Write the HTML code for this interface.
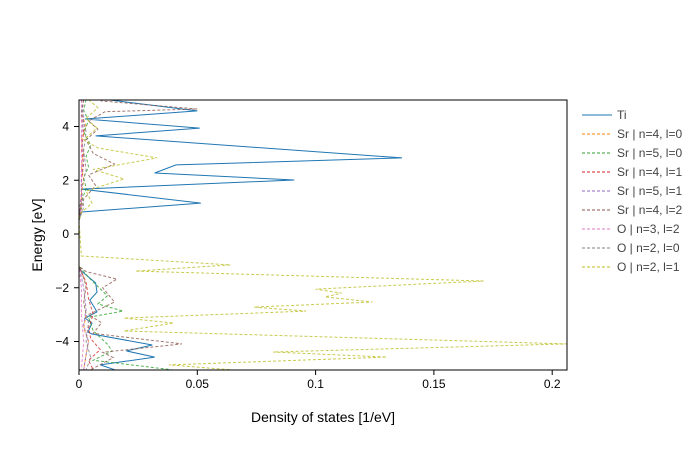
<!DOCTYPE html>
<html><head><meta charset="utf-8"><style>
body{margin:0;background:#fff;font-family:"Liberation Sans",sans-serif}
text{font-family:"Liberation Sans",sans-serif}
</style></head><body>
<svg id="chart" width="700" height="450" xmlns="http://www.w3.org/2000/svg">
<rect width="700" height="450" fill="#fff"/>
<g id="series"></g>
<rect x="79" y="100" width="488" height="270" fill="none" stroke="#000" stroke-width="1"/>
<g id="axes"></g>
<text x="323" y="422" font-size="14" text-anchor="middle">Density of states [1/eV]</text>
<text transform="translate(42,235) rotate(-90)" font-size="14" text-anchor="middle">Energy [eV]</text>
<g id="legend"></g>
</svg>
<script>
const xTicks=[0,0.05,0.1,0.15,0.2];
const xTickLabels=["0","0.05","0.1","0.15","0.2"];
const yTicks=[4,2,0,-2,-4];
const yTickLabels=["4","2","0","−2","−4"];
const seriesNames=["Ti","Sr | n=4, l=0","Sr | n=5, l=0","Sr | n=4, l=1","Sr | n=5, l=1","Sr | n=4, l=2","O | n=3, l=2","O | n=2, l=0","O | n=2, l=1"];
const tiE=[5,4.95,4.58,4.28,3.94,3.65,2.83,2.57,2.27,2.01,1.67,1.15,0.82,0.5,-1.2,-1.38,-1.82,-2.16,-2.46,-2.9,-3.13,-3.31,-3.65,-3.72,-4.13,-4.35,-4.58,-4.87,-5.05];
const tiV=[0.012,0.0165,0.05,0.0025,0.051,0.007,0.1365,0.041,0.032,0.091,0.001,0.0515,0.001,0,0,0.001,0.007,0.0076,0.0046,0.0076,0.0025,0.0055,0.0038,0.0055,0.031,0.02,0.032,0.009,0.015];
const srs40E=[5,4.5,4,3.5,3,2.5,2,1.5,1,0.6,-1.2,-1.6,-2,-2.5,-3,-3.5,-4,-4.5,-5.05];
const srs40V=[0.002,0.001,0.003,0.001,0.002,0.001,0.002,0.001,0.001,0,0,0.002,0.003,0.002,0.003,0.002,0.004,0.003,0.002];
const srs50E=[5,4.6,4.2,3.8,3.3,2.9,2.5,2.1,1.7,1.2,0.6,-1.2,-1.7,-2.3,-2.6,-2.87,-3.1,-3.6,-4.1,-4.35,-4.7,-5.05];
const srs50V=[0.003,0.002,0.004,0.002,0.005,0.003,0.004,0.002,0.003,0.001,0,0,0.005,0.012,0.008,0.0186,0.004,0.006,0.012,0.014,0.006,0.039];
const srp41E=[5,4.4,3.8,3.2,2.6,2,1.4,0.6,-1.2,-1.8,-2.4,-3,-3.5,-3.9,-4.3,-4.7,-5.05];
const srp41V=[0.002,0.001,0.002,0.001,0.002,0.001,0.001,0,0,0.003,0.004,0.006,0.004,0.005,0.009,0.004,0.006];
const srp51E=[5,4.3,3.6,2.9,2.2,1.5,0.6,-1.2,-2,-2.8,-3.4,-4,-4.5,-5.05];
const srp51V=[0.001,0.002,0.001,0.002,0.001,0.001,0,0,0.002,0.003,0.002,0.004,0.003,0.002];
const srd42E=[5,4.95,4.65,4.55,4.2,3.9,3.5,3.0,2.6,2.2,1.8,1.3,0.6,-1.2,-1.4,-1.68,-2.0,-2.53,-3.0,-3.3,-3.7,-4.09,-4.4,-4.6,-5.05];
const srd42V=[0.009,0.0095,0.05,0.011,0.004,0.008,0.003,0.006,0.015,0.004,0.007,0.002,0,0,0.003,0.016,0.01,0.015,0.004,0.0095,0.006,0.0435,0.01,0.0145,0.005];
const od32E=[5,4,3,2,1,0.5,-1.2,-2,-3,-4,-5.05];
const od32V=[0.001,0.001,0.001,0.001,0.001,0,0,0.001,0.001,0.002,0.001];
const os20E=[5,4.5,3.8,3.1,2.4,1.7,1,0.5,-1.2,-1.9,-2.6,-3.3,-4,-4.6,-5.05];
const os20V=[0.002,0.001,0.003,0.002,0.003,0.001,0.002,0,0,0.003,0.002,0.004,0.003,0.005,0.003];
const op21E=[5,4.7,4.3,3.94,3.5,3.2,2.83,2.4,2.05,1.6,1.15,0.8,0.5,-0.82,-1.15,-1.38,-1.75,-2.05,-2.2,-2.34,-2.53,-2.72,-2.87,-3.13,-3.31,-3.61,-4.09,-4.39,-4.58,-4.87,-5.05];
const op21V=[0.004,0.008,0.003,0.0076,0.002,0.008,0.033,0.006,0.019,0.003,0.0055,0.001,0,0.001,0.064,0.024,0.171,0.1,0.111,0.104,0.124,0.074,0.096,0.019,0.04,0.019,0.206,0.082,0.13,0.038,0.064];
const seriesE=[tiE,srs40E,srs50E,srp41E,srp51E,srd42E,od32E,os20E,op21E];
const seriesV=[tiV,srs40V,srs50V,srp41V,srp51V,srd42V,od32V,os20V,op21V];
const colors=["#1f77b4","#ff7f0e","#2ca02c","#d62728","#9467bd","#8c564b","#e377c2","#7f7f7f","#bcbd22"];
const X0=79,X1=567,Y0=100,Y1=370;
const xs=v=>X0+v/0.05*118.3;
const ys=e=>234-e*26.875;
const NS="http://www.w3.org/2000/svg";
function mk(t,a,p){const el=document.createElementNS(NS,t);for(const k in a)el.setAttribute(k,a[k]);p.appendChild(el);return el;}
const sg=document.getElementById('series');
const clip=mk('clipPath',{id:'pc'},document.getElementById('chart'));
mk('rect',{x:X0,y:Y0,width:X1-X0,height:Y1-Y0},clip);
sg.setAttribute('clip-path','url(#pc)');
seriesE.forEach((E,i)=>{
  const d=E.map((e,j)=>(j?'L':'M')+xs(seriesV[i][j]).toFixed(1)+','+ys(e).toFixed(1)).join('');
  const p=mk('path',{d:d,fill:'none',stroke:colors[i],'stroke-width':1,opacity:i?0.8:1},sg);
  if(i)p.setAttribute('stroke-dasharray','3,2');
  
  
});
const ax=document.getElementById('axes');
xTicks.forEach((t,i)=>{
  const x=xs(t);
  const l=mk('line',{x1:x,x2:x,y1:Y1,y2:Y1+5,stroke:'#000'},ax);
  
  
  const tx=mk('text',{x:x,y:Y1+18,'font-size':12,'text-anchor':'middle'},ax);
  tx.textContent=xTickLabels[i];
  
  
});
yTicks.forEach((t,i)=>{
  const y=ys(t);
  const l=mk('line',{x1:X0-5,x2:X0,y1:y,y2:y,stroke:'#000'},ax);
  
  
  const tx=mk('text',{x:X0-10,y:y+4,'font-size':12,'text-anchor':'end'},ax);
  tx.textContent=yTickLabels[i];
  
  
});
const lg=document.getElementById('legend');
seriesNames.forEach((n,i)=>{
  const y=115+i*19;
  const g=mk('g',{},lg);
  
  
  const l=mk('line',{x1:582,x2:612,y1:y,y2:y,stroke:colors[i],'stroke-width':1},g);
  if(i)l.setAttribute('stroke-dasharray','3,2');
  const t=mk('text',{x:617,y:y+4,'font-size':12,fill:'#444'},g);
  t.textContent=n;
});
</script>
</body></html>
